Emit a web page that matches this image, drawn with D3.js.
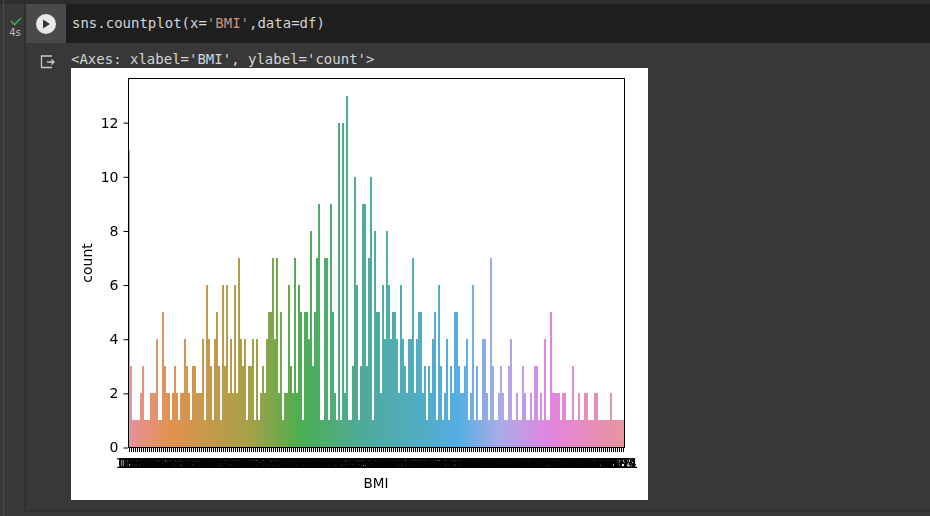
<!DOCTYPE html>
<html>
<head>
<meta charset="utf-8">
<script src="https://cdn.jsdelivr.net/npm/d3@7"></script>
<style>
  html, body { margin: 0; padding: 0; background: #383838; overflow: hidden; }
  text { font-family: "DejaVu Sans", sans-serif; }
  .mono { font-family: "DejaVu Sans Mono", monospace; font-size: 14px; }
</style>
</head>
<body>
<div id="my_dataviz"></div>
<script>
// distinct BMI values, in the order of the axis (the tick labels overlap, so partly estimated)
var bmiLabels = ["0.0","18.2","18.4","19.1","19.3","19.4","19.5","19.6","19.9","20.0",
  "20.1","20.4","20.8","21.0","21.1","21.2","21.7","21.8","21.9","22.1",
  "22.2","22.3","22.4","22.5","22.6","22.7","22.9","23.0","23.1","23.2",
  "23.3","23.4","23.5","23.6","23.7","23.8","23.9","24.0","24.1","24.2",
  "24.3","24.4","24.5","24.6","24.7","24.8","24.9","25.0","25.1","25.2",
  "25.3","25.4","25.5","25.6","25.8","25.9","26.0","26.1","26.2","26.3",
  "26.4","26.5","26.6","26.7","26.8","26.9","27.0","27.1","27.2","27.3",
  "27.4","27.5","27.6","27.7","27.8","27.9","28.0","28.1","28.2","28.3",
  "28.4","28.5","28.6","28.7","28.8","28.9","29.0","29.2","29.3","29.5",
  "29.6","29.7","29.8","29.9","30.0","30.1","30.2","30.3","30.4","30.5",
  "30.7","30.8","30.9","31.0","31.1","31.2","31.3","31.6","31.9","32.0",
  "32.1","32.2","32.3","32.4","32.5","32.6","32.7","32.8","32.9","33.1",
  "33.2","33.3","33.5","33.6","33.7","33.8","33.9","34.0","34.1","34.2",
  "34.3","34.4","34.5","34.6","34.7","34.8","34.9","35.0","35.1","35.2",
  "35.3","35.4","35.5","35.6","35.7","35.8","35.9","36.0","36.1","36.2",
  "36.3","36.4","36.5","36.6","36.7","36.8","36.9","37.0","37.1","37.2",
  "37.3","37.4","37.5","37.6","37.7","37.8","37.9","38.0","38.1","38.2",
  "38.3","38.4","38.5","38.6","38.7","38.8","38.9","39.0","39.1","39.2",
  "39.3","39.4","39.5","39.6","39.7","39.8","39.9","40.0","40.1","40.2",
  "40.3","40.5","40.6","40.7","40.8","40.9","41.0","41.2","41.3","41.5",
  "41.8","42.0","42.1","42.2","42.3","42.4","42.6","42.7","42.8","42.9",
  "43.1","43.2","43.3","43.4","43.5","43.6","44.0","44.1","44.2","44.5",
  "44.6","45.0","45.2","45.3","45.4","45.5","45.6","45.7","45.8","46.1",
  "46.2","46.3","46.5","46.7","46.8","47.9","48.3","48.8","49.3","49.6",
  "49.7","52.3","52.9","53.2","55.0","57.3","59.4","67.1"];

// bar heights, ten per row
var counts = [11,3,1,1,1,1,2,3,1,1,
  1,2,2,2,4,1,1,5,3,2,
  2,1,2,3,2,1,2,2,4,3,
  2,1,3,3,2,2,2,4,1,6,
  4,3,1,4,5,3,1,6,3,6,
  2,4,2,6,2,7,4,3,4,1,
  3,3,4,1,4,1,2,3,2,4,
  5,5,7,4,7,2,5,1,2,2,
  6,3,2,7,2,6,5,1,5,5,
  4,8,3,5,7,9,1,1,7,7,
  1,9,5,2,1,12,1,12,2,13,
  1,1,3,10,6,1,3,9,9,3,
  7,10,1,8,5,5,2,6,4,8,
  6,4,5,5,4,2,6,4,3,2,
  4,4,7,2,4,5,5,2,3,1,
  3,2,4,5,1,6,3,1,2,4,
  1,3,2,5,5,3,2,2,3,4,
  1,2,6,1,3,1,1,4,4,2,
  1,7,3,1,1,2,3,2,1,1,
  3,4,1,1,2,1,1,3,2,1,
  1,2,1,3,3,1,2,1,4,1,
  1,5,2,2,2,2,1,2,2,1,
  1,1,3,1,1,2,1,1,2,2,
  1,1,1,2,2,1,1,1,1,1,
  1,2,1,1,1,1,1,1];

var yTicks = [0, 2, 4, 6, 8, 10, 12];

// palette along the bars, sampled at a few places
var colorAt = [0, 21, 60, 85, 120, 165, 185, 211, 247];
var colorHex = ["#e8919c", "#e0924e", "#a8a047", "#4dae50", "#4faaa0", "#54aee0", "#a9abe8", "#e385e0", "#e8949f"];

var svg = d3.select("#my_dataviz")
    .append("svg")
    .attr("width", 930)
    .attr("height", 516)
    .style("display", "block");

// --- notebook cell around the figure ---
svg.append("rect").attr("x", 0).attr("y", 0).attr("width", 930).attr("height", 516).attr("fill", "#383838");
svg.append("rect").attr("x", 0).attr("y", 0).attr("width", 930).attr("height", 4).attr("fill", "#2e2e2e");
svg.append("rect").attr("x", 3).attr("y", 0).attr("width", 1).attr("height", 516).attr("fill", "#4a4a4a");
svg.append("rect").attr("x", 26).attr("y", 4).attr("width", 904).attr("height", 506).attr("fill", "#383838");
svg.append("rect").attr("x", 24).attr("y", 4).attr("width", 2).attr("height", 506).attr("fill", "#2f2f2f");
svg.append("rect").attr("x", 24).attr("y", 510).attr("width", 906).attr("height", 2).attr("fill", "#2f2f2f");
svg.append("rect").attr("x", 26).attr("y", 4).attr("width", 40).attr("height", 39).attr("fill", "#4a4a4a");
svg.append("rect").attr("x", 66).attr("y", 4).attr("width", 864).attr("height", 39).attr("fill", "#1e1e1e");

svg.append("circle").attr("cx", 46).attr("cy", 24).attr("r", 10).attr("fill", "#e8e8e8");
svg.append("path").attr("d", "M43 19.5 L50 24 L43 28.5 Z").attr("fill", "#3a3a3a");
svg.append("path").attr("d", "M11 21 L14.5 24.5 L21 18").attr("fill", "none").attr("stroke", "#2fb344").attr("stroke-width", 1.6);
svg.append("text").attr("x", 15).attr("y", 36).attr("text-anchor", "middle")
    .attr("font-size", 10).attr("fill", "#bdbdbd").text("4s");
svg.append("path").attr("d", "M52 56 H41.5 V67.5 H52 M47 62 H54 M51.5 59.5 L54 62 L51.5 64.5")
    .attr("fill", "none").attr("stroke", "#c8c8c8").attr("stroke-width", 1.3);

var code = svg.append("text").attr("class", "mono").attr("x", 72).attr("y", 28).attr("fill", "#d4d4d4");
code.append("tspan").text("sns.countplot(x=");
code.append("tspan").attr("fill", "#ce9178").text("'BMI'");
code.append("tspan").text(",data=df)");
svg.append("text").attr("class", "mono").attr("x", 71).attr("y", 64).attr("fill", "#d4d4d4")
    .text("<Axes: xlabel='BMI', ylabel='count'>");

// --- figure ---
svg.append("rect").attr("x", 71).attr("y", 68).attr("width", 577).attr("height", 432).attr("fill", "#ffffff");

var margin = {top: 78, right: 624, bottom: 447.5, left: 128};

var x = d3.scaleBand()
    .domain(d3.range(counts.length))
    .range([margin.left, margin.right]);

var y = d3.scaleLinear()
    .domain([0, 13.65])
    .range([margin.bottom, margin.top]);

var color = d3.scaleLinear()
    .domain(colorAt)
    .range(colorHex)
    .interpolate(d3.interpolateRgb);

svg.append("g")
    .selectAll("rect")
    .data(counts)
    .enter()
    .append("rect")
        .attr("x", function(d, i) { return x(i); })
        .attr("y", function(d) { return y(d); })
        .attr("width", x.bandwidth())
        .attr("height", function(d) { return y(0) - y(d); })
        .attr("fill", function(d, i) { return color(i); })
        .attr("shape-rendering", "crispEdges");

// separate layer keeps the overlapping labels grey-antialiased
var xAxis = svg.append("g")
    .attr("transform", "translate(0," + margin.bottom + ")")
    .style("will-change", "opacity")
    .style("opacity", 0.999)
    .call(d3.axisBottom(x).tickSize(4).tickPadding(6.5).tickFormat(function(i) { return bmiLabels[i]; }));
xAxis.select(".domain").remove();
xAxis.selectAll("line").attr("stroke", "#000").attr("shape-rendering", "crispEdges");
xAxis.selectAll("text").attr("font-size", 14).attr("font-family", "DejaVu Sans").attr("fill", "#000");

var yAxis = svg.append("g")
    .attr("transform", "translate(" + margin.left + ",0)")
    .call(d3.axisLeft(y).tickValues(yTicks).tickSize(4.5).tickPadding(5));
yAxis.select(".domain").remove();
yAxis.selectAll("text").attr("font-size", 14).attr("font-family", "DejaVu Sans").attr("fill", "#000");

// frame on top of the bars
svg.append("rect")
    .attr("x", margin.left + 0.5)
    .attr("y", margin.top)
    .attr("width", margin.right - margin.left)
    .attr("height", margin.bottom - margin.top)
    .attr("fill", "none")
    .attr("stroke", "#000")
    .attr("stroke-width", 1)
    .attr("shape-rendering", "crispEdges");

svg.append("text")
    .attr("x", 376).attr("y", 488)
    .attr("text-anchor", "middle")
    .attr("font-size", 13.5)
    .text("BMI");

svg.append("text")
    .attr("transform", "translate(92,263) rotate(-90)")
    .attr("text-anchor", "middle")
    .attr("font-size", 14)
    .text("count");
</script>
</body>
</html>
